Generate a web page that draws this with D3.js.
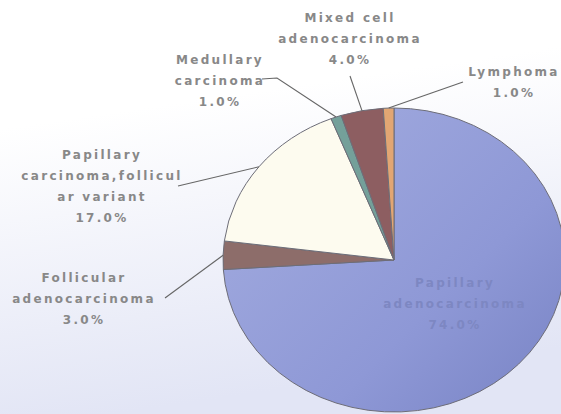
<!DOCTYPE html>
<html>
<head>
<meta charset="utf-8">
<script src="https://cdn.jsdelivr.net/npm/d3@7"></script>
<style>
  body { margin: 0; background: #fff; }
  svg { display: block; }
  .lbl { font-family: "DejaVu Sans", sans-serif; font-weight: bold; font-size: 12px; letter-spacing: 2.3px; fill: #888; }
</style>
</head>
<body>
<svg id="chart" width="561" height="414"></svg>
<script>
// data, clockwise from 12 o'clock
var categories = ["Papillary adenocarcinoma", "Follicular adenocarcinoma", "Papillary carcinoma,follicular variant",
                  "Medullary carcinoma", "Mixed cell adenocarcinoma", "Lymphoma"];
var percents = [74, 3, 17, 1, 4, 1];
var labelLines = [
  ["Papillary", "adenocarcinoma", "74.0%"],
  ["Follicular", "adenocarcinoma", "3.0%"],
  ["Papillary", "carcinoma,follicul", "ar variant", "17.0%"],
  ["Medullary", "carcinoma", "1.0%"],
  ["Mixed cell", "adenocarcinoma", "4.0%"],
  ["Lymphoma", "1.0%"]
];
var colors = ["url(#blueGrad)", "#8d6d6a", "#fdfbef", "#74a09a", "#8d5e61", "#e2a673"];

// layout
var cx = 394, cy = 260, rx = 171, ry = 152;
var lineH = 21;
// where each label block is centred (first baseline), and where its leader starts
var labelPos = [
  {x: 455, y: 287, lx: null, ly: null, inside: true},
  {x: 84,  y: 282, lx: 165, ly: 298},
  {x: 102, y: 159, lx: 178, ly: 186},
  {x: 220, y: 64,  lx: 262, ly: 79, bend: [277, 78]},
  {x: 350, y: 22,  lx: 350, ly: 76},
  {x: 514, y: 76,  lx: 463, ly: 82}
];

var svg = d3.select("#chart");
var defs = svg.append("defs");

var bg = defs.append("linearGradient").attr("id", "bgGrad")
  .attr("x1", 0).attr("y1", 0).attr("x2", 0.2).attr("y2", 1);
bg.append("stop").attr("offset", "0.3").attr("stop-color", "#ffffff");
bg.append("stop").attr("offset", "1").attr("stop-color", "#e2e5f5");

var bl = defs.append("linearGradient").attr("id", "blueGrad")
  .attr("gradientUnits", "userSpaceOnUse")
  .attr("x1", -150).attr("y1", -100).attr("x2", 150).attr("y2", 170);
bl.append("stop").attr("offset", "0").attr("stop-color", "#a0a9de");
bl.append("stop").attr("offset", "0.6").attr("stop-color", "#8e98d6");
bl.append("stop").attr("offset", "1").attr("stop-color", "#7a85c6");

svg.append("rect").attr("width", 561).attr("height", 414).attr("fill", "url(#bgGrad)");

var pie = d3.pie().sort(null).value(function(d) { return d; });
var arcs = pie(percents);
var arc = d3.arc().innerRadius(0).outerRadius(rx);

var g = svg.append("g")
  .attr("transform", "translate(" + cx + "," + cy + ") scale(1," + (ry / rx) + ")");

g.selectAll("path.slice")
  .data(arcs)
  .enter()
  .append("path")
  .attr("class", "slice")
  .attr("d", arc)
  .attr("fill", function(d, i) { return colors[i]; })
  .attr("stroke", "#6d6d78")
  .attr("stroke-width", 1)
  .attr("vector-effect", "non-scaling-stroke");

// point on the pie rim at the middle of a slice
function rimPoint(d) {
  var a = (d.startAngle + d.endAngle) / 2;
  return [cx + rx * Math.sin(a), cy - ry * Math.cos(a)];
}

// leader lines
arcs.forEach(function(d, i) {
  var p = labelPos[i];
  if (p.inside) return;
  var end = rimPoint(d);
  var pts = [[p.lx, p.ly]];
  if (p.bend) pts.push(p.bend);
  pts.push(end);
  svg.append("path")
    .attr("d", d3.line()(pts))
    .attr("fill", "none")
    .attr("stroke", "#666")
    .attr("stroke-width", 1.1);
});

// labels
labelLines.forEach(function(lines, i) {
  var p = labelPos[i];
  var t = svg.append("text")
    .attr("class", "lbl")
    .attr("text-anchor", "middle")
    .style("fill", p.inside ? "#7d87c2" : "#888");
  lines.forEach(function(s, k) {
    t.append("tspan")
      .attr("x", p.x)
      .attr("y", p.y + k * lineH)
      .text(s);
  });
});
</script>
</body>
</html>
